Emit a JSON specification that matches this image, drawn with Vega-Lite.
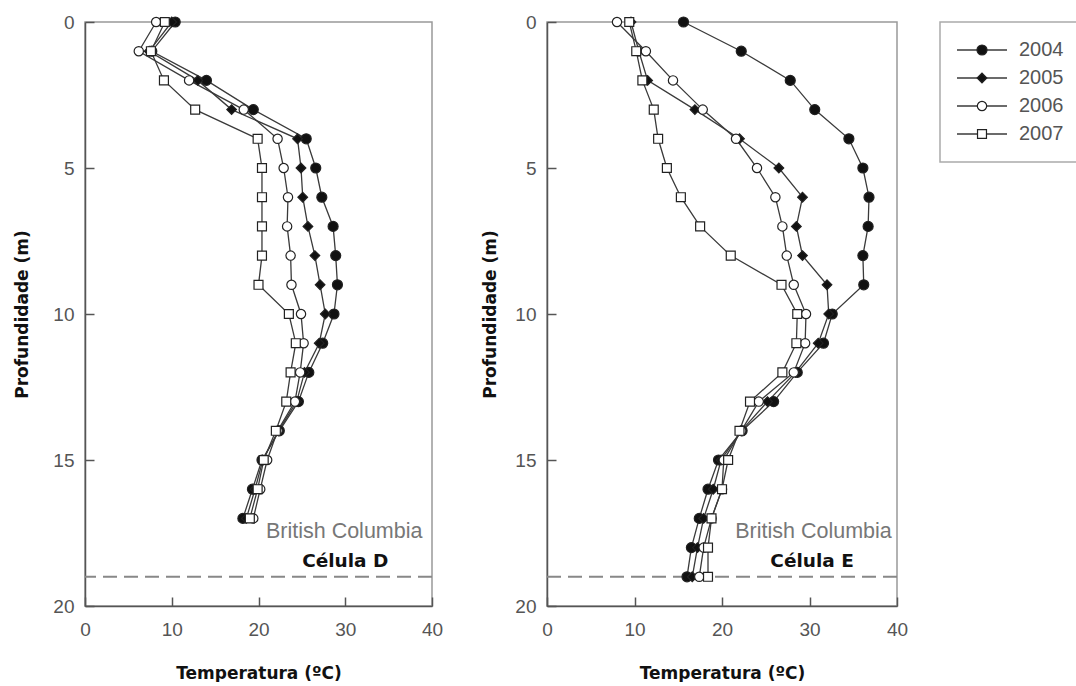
{
  "$schema": "https://vega.github.io/schema/vega-lite/v6.json",
  "padding": {"left": 13, "top": 12, "right": 0, "bottom": 0},
  "background": "white",
  "bounds": "flush",
  "spacing": 855,
  "config": {
    "view": {"stroke": "#999", "strokeWidth": 1.5},
    "axis": {
      "domainColor": "#555", "domainWidth": 1.5, "tickColor": "#555", "tickWidth": 1.5,
      "labelFont": "Liberation Sans", "labelFontSize": 19, "labelColor": "#555",
      "labelFlush": false, "labelOverlap": false, "grid": false,
      "titleFont": "DejaVu Sans", "titleFontSize": 17, "titleFontWeight": "bold", "titleColor": "#111"
    }
  },
  "datasets": {
    "D": [
      {"year":"2004","depth":0,"temp":10.4},{"year":"2005","depth":0,"temp":10.0},{"year":"2006","depth":0,"temp":8.2},{"year":"2007","depth":0,"temp":9.2},
      {"year":"2004","depth":1,"temp":7.7},{"year":"2005","depth":1,"temp":7.4},{"year":"2006","depth":1,"temp":6.2},{"year":"2007","depth":1,"temp":7.6},
      {"year":"2004","depth":2,"temp":14.0},{"year":"2005","depth":2,"temp":13.0},{"year":"2006","depth":2,"temp":12.0},{"year":"2007","depth":2,"temp":9.1},
      {"year":"2004","depth":3,"temp":19.4},{"year":"2005","depth":3,"temp":16.9},{"year":"2006","depth":3,"temp":18.3},{"year":"2007","depth":3,"temp":12.7},
      {"year":"2004","depth":4,"temp":25.5},{"year":"2005","depth":4,"temp":24.5},{"year":"2006","depth":4,"temp":22.2},{"year":"2007","depth":4,"temp":19.9},
      {"year":"2004","depth":5,"temp":26.6},{"year":"2005","depth":5,"temp":24.9},{"year":"2006","depth":5,"temp":22.9},{"year":"2007","depth":5,"temp":20.4},
      {"year":"2004","depth":6,"temp":27.3},{"year":"2005","depth":6,"temp":25.1},{"year":"2006","depth":6,"temp":23.4},{"year":"2007","depth":6,"temp":20.4},
      {"year":"2004","depth":7,"temp":28.6},{"year":"2005","depth":7,"temp":25.7},{"year":"2006","depth":7,"temp":23.3},{"year":"2007","depth":7,"temp":20.4},
      {"year":"2004","depth":8,"temp":28.9},{"year":"2005","depth":8,"temp":26.5},{"year":"2006","depth":8,"temp":23.7},{"year":"2007","depth":8,"temp":20.4},
      {"year":"2004","depth":9,"temp":29.1},{"year":"2005","depth":9,"temp":27.1},{"year":"2006","depth":9,"temp":23.8},{"year":"2007","depth":9,"temp":20.0},
      {"year":"2004","depth":10,"temp":28.7},{"year":"2005","depth":10,"temp":27.7},{"year":"2006","depth":10,"temp":24.9},{"year":"2007","depth":10,"temp":23.5},
      {"year":"2004","depth":11,"temp":27.4},{"year":"2005","depth":11,"temp":27.0},{"year":"2006","depth":11,"temp":25.2},{"year":"2007","depth":11,"temp":24.3},
      {"year":"2004","depth":12,"temp":25.8},{"year":"2005","depth":12,"temp":25.3},{"year":"2006","depth":12,"temp":24.8},{"year":"2007","depth":12,"temp":23.7},
      {"year":"2004","depth":13,"temp":24.6},{"year":"2005","depth":13,"temp":24.4},{"year":"2006","depth":13,"temp":24.2},{"year":"2007","depth":13,"temp":23.2},
      {"year":"2004","depth":14,"temp":22.4},{"year":"2005","depth":14,"temp":22.3},{"year":"2006","depth":14,"temp":22.2},{"year":"2007","depth":14,"temp":22.0},
      {"year":"2004","depth":15,"temp":20.4},{"year":"2005","depth":15,"temp":20.5},{"year":"2006","depth":15,"temp":21.0},{"year":"2007","depth":15,"temp":20.6},
      {"year":"2004","depth":16,"temp":19.3},{"year":"2005","depth":16,"temp":19.6},{"year":"2006","depth":16,"temp":20.2},{"year":"2007","depth":16,"temp":19.9},
      {"year":"2004","depth":17,"temp":18.2},{"year":"2005","depth":17,"temp":18.6},{"year":"2006","depth":17,"temp":19.4},{"year":"2007","depth":17,"temp":19.0}
    ],
    "E": [
      {"year":"2004","depth":0,"temp":15.6},{"year":"2005","depth":0,"temp":9.6},{"year":"2006","depth":0,"temp":8.0},{"year":"2007","depth":0,"temp":9.4},
      {"year":"2004","depth":1,"temp":22.2},{"year":"2005","depth":1,"temp":10.5},{"year":"2006","depth":1,"temp":11.3},{"year":"2007","depth":1,"temp":10.2},
      {"year":"2004","depth":2,"temp":27.8},{"year":"2005","depth":2,"temp":11.5},{"year":"2006","depth":2,"temp":14.4},{"year":"2007","depth":2,"temp":10.9},
      {"year":"2004","depth":3,"temp":30.6},{"year":"2005","depth":3,"temp":16.9},{"year":"2006","depth":3,"temp":17.8},{"year":"2007","depth":3,"temp":12.2},
      {"year":"2004","depth":4,"temp":34.5},{"year":"2005","depth":4,"temp":22.0},{"year":"2006","depth":4,"temp":21.6},{"year":"2007","depth":4,"temp":12.7},
      {"year":"2004","depth":5,"temp":36.1},{"year":"2005","depth":5,"temp":26.5},{"year":"2006","depth":5,"temp":24.0},{"year":"2007","depth":5,"temp":13.7},
      {"year":"2004","depth":6,"temp":36.8},{"year":"2005","depth":6,"temp":29.2},{"year":"2006","depth":6,"temp":26.1},{"year":"2007","depth":6,"temp":15.3},
      {"year":"2004","depth":7,"temp":36.7},{"year":"2005","depth":7,"temp":28.5},{"year":"2006","depth":7,"temp":26.9},{"year":"2007","depth":7,"temp":17.5},
      {"year":"2004","depth":8,"temp":36.1},{"year":"2005","depth":8,"temp":29.2},{"year":"2006","depth":8,"temp":27.4},{"year":"2007","depth":8,"temp":21.0},
      {"year":"2004","depth":9,"temp":36.2},{"year":"2005","depth":9,"temp":32.0},{"year":"2006","depth":9,"temp":28.2},{"year":"2007","depth":9,"temp":26.8},
      {"year":"2004","depth":10,"temp":32.6},{"year":"2005","depth":10,"temp":32.2},{"year":"2006","depth":10,"temp":29.6},{"year":"2007","depth":10,"temp":28.6},
      {"year":"2004","depth":11,"temp":31.6},{"year":"2005","depth":11,"temp":31.0},{"year":"2006","depth":11,"temp":29.5},{"year":"2007","depth":11,"temp":28.5},
      {"year":"2004","depth":12,"temp":28.6},{"year":"2005","depth":12,"temp":28.4},{"year":"2006","depth":12,"temp":28.2},{"year":"2007","depth":12,"temp":26.9},
      {"year":"2004","depth":13,"temp":25.9},{"year":"2005","depth":13,"temp":25.2},{"year":"2006","depth":13,"temp":24.2},{"year":"2007","depth":13,"temp":23.2},
      {"year":"2004","depth":14,"temp":22.3},{"year":"2005","depth":14,"temp":22.2},{"year":"2006","depth":14,"temp":22.2},{"year":"2007","depth":14,"temp":22.0},
      {"year":"2004","depth":15,"temp":19.6},{"year":"2005","depth":15,"temp":19.9},{"year":"2006","depth":15,"temp":20.2},{"year":"2007","depth":15,"temp":20.7},
      {"year":"2004","depth":16,"temp":18.4},{"year":"2005","depth":16,"temp":19.0},{"year":"2006","depth":16,"temp":20.0},{"year":"2007","depth":16,"temp":20.0},
      {"year":"2004","depth":17,"temp":17.4},{"year":"2005","depth":17,"temp":17.9},{"year":"2006","depth":17,"temp":18.8},{"year":"2007","depth":17,"temp":18.8},
      {"year":"2004","depth":18,"temp":16.5},{"year":"2005","depth":18,"temp":17.2},{"year":"2006","depth":18,"temp":17.9},{"year":"2007","depth":18,"temp":18.4},
      {"year":"2004","depth":19,"temp":16.0},{"year":"2005","depth":19,"temp":16.6},{"year":"2006","depth":19,"temp":17.4},{"year":"2007","depth":19,"temp":18.4}
    ],
    "legend": [{"year":"2004"},{"year":"2005"},{"year":"2006"},{"year":"2007"}],
    "one": [{}],
    "labelsD": [{"place":"British Columbia","cell":"Célula D"}],
    "labelsE": [{"place":"British Columbia","cell":"Célula E"}]
  },
  "hconcat": [
    {
      "bounds": "flush",
      "spacing": 115,
      "hconcat": [
        {
          "width": 347, "height": 584,
          "layer": [
            {"data": {"name": "one"}, "mark": {"type": "rule", "stroke": "#888", "strokeWidth": 2, "strokeDash": [14, 7]}, "encoding": {"y": {"datum": 19, "type": "quantitative"}}},
            {"data": {"name": "D"}, "mark": {"type": "line", "stroke": "#3a3a3a", "strokeWidth": 1.3, "clip": false},
             "encoding": {
               "x": {"field": "temp", "type": "quantitative", "scale": {"domain": [0, 40], "nice": false}, "axis": {"values": [0, 10, 20, 30, 40], "title": "Temperatura (ºC)", "tickSize": -9, "labelPadding": 23, "titlePadding": 26}},
               "y": {"field": "depth", "type": "quantitative", "scale": {"domain": [0, 20], "nice": false, "reverse": true}, "axis": {"values": [0, 5, 10, 15, 20], "title": "Profundidade (m)", "tickSize": -9, "labelPadding": 20, "titlePadding": 21}},
               "detail": {"field": "year"}, "order": {"field": "depth"}}},
            {"data": {"name": "D"}, "mark": {"type": "point", "filled": true, "stroke": "#222", "strokeWidth": 1.2, "opacity": 1, "clip": false},
             "encoding": {
               "x": {"field": "temp", "type": "quantitative"},
               "y": {"field": "depth", "type": "quantitative"},
               "shape": {"field": "year", "type": "nominal", "scale": {"domain": ["2004","2005","2006","2007"], "range": ["circle","diamond","circle","square"]}, "legend": null},
               "fill": {"field": "year", "type": "nominal", "scale": {"domain": ["2004","2005","2006","2007"], "range": ["#111","#111","#fff","#fff"]}, "legend": null},
               "size": {"field": "year", "type": "nominal", "scale": {"domain": ["2004","2005","2006","2007"], "range": [100, 80, 80, 64]}, "legend": null}}},
            {"data": {"name": "labelsD"}, "mark": {"type": "text", "font": "Liberation Sans", "fontSize": 21.5, "color": "#777", "align": "right", "baseline": "middle"}, "encoding": {"text": {"field": "place"}, "x": {"datum": 38.9}, "y": {"datum": 17.45}}},
            {"data": {"name": "labelsD"}, "mark": {"type": "text", "font": "DejaVu Sans", "fontWeight": "bold", "fontSize": 18.5, "color": "#111", "align": "center", "baseline": "middle"}, "encoding": {"text": {"field": "cell"}, "x": {"datum": 30.0}, "y": {"datum": 18.45}}}
          ]
        },
        {
          "width": 350, "height": 584,
          "layer": [
            {"data": {"name": "one"}, "mark": {"type": "rule", "stroke": "#888", "strokeWidth": 2, "strokeDash": [14, 7]}, "encoding": {"y": {"datum": 19, "type": "quantitative"}}},
            {"data": {"name": "E"}, "mark": {"type": "line", "stroke": "#3a3a3a", "strokeWidth": 1.3, "clip": false},
             "encoding": {
               "x": {"field": "temp", "type": "quantitative", "scale": {"domain": [0, 40], "nice": false}, "axis": {"values": [0, 10, 20, 30, 40], "title": "Temperatura (ºC)", "tickSize": -9, "labelPadding": 23, "titlePadding": 26}},
               "y": {"field": "depth", "type": "quantitative", "scale": {"domain": [0, 20], "nice": false, "reverse": true}, "axis": {"values": [0, 5, 10, 15, 20], "title": "Profundidade (m)", "tickSize": -9, "labelPadding": 20, "titlePadding": 15}},
               "detail": {"field": "year"}, "order": {"field": "depth"}}},
            {"data": {"name": "E"}, "mark": {"type": "point", "filled": true, "stroke": "#222", "strokeWidth": 1.2, "opacity": 1, "clip": false},
             "encoding": {
               "x": {"field": "temp", "type": "quantitative"},
               "y": {"field": "depth", "type": "quantitative"},
               "shape": {"field": "year", "type": "nominal", "legend": null},
               "fill": {"field": "year", "type": "nominal", "legend": null},
               "size": {"field": "year", "type": "nominal", "legend": null}}},
            {"data": {"name": "labelsE"}, "mark": {"type": "text", "font": "Liberation Sans", "fontSize": 21.5, "color": "#777", "align": "right", "baseline": "middle"}, "encoding": {"text": {"field": "place"}, "x": {"datum": 39.4}, "y": {"datum": 17.45}}},
            {"data": {"name": "labelsE"}, "mark": {"type": "text", "font": "DejaVu Sans", "fontWeight": "bold", "fontSize": 18.5, "color": "#111", "align": "center", "baseline": "middle"}, "encoding": {"text": {"field": "cell"}, "x": {"datum": 30.3}, "y": {"datum": 18.45}}}
          ]
        }
      ]
    },
    {
      "width": 140, "height": 140,
      "view": {"stroke": "#aaa", "strokeWidth": 1.5},
      "data": {"name": "legend"},
      "layer": [
        {"mark": {"type": "rule", "stroke": "#3a3a3a", "strokeWidth": 1.5}, "encoding": {"x": {"datum": 17, "type": "quantitative", "scale": {"domain": [0, 140], "nice": false}, "axis": null}, "x2": {"datum": 67}, "y": {"field": "year", "type": "ordinal", "scale": {"type": "point", "padding": 1.1}, "axis": null}}},
        {"mark": {"type": "point", "filled": true, "stroke": "#222", "strokeWidth": 1.2, "opacity": 1},
         "encoding": {"x": {"datum": 42, "type": "quantitative"}, "y": {"field": "year", "type": "ordinal"},
           "shape": {"field": "year", "type": "nominal", "legend": null},
           "fill": {"field": "year", "type": "nominal", "legend": null},
           "size": {"field": "year", "type": "nominal", "legend": null}}},
        {"mark": {"type": "text", "font": "Liberation Sans", "fontSize": 20, "color": "#555", "align": "left", "baseline": "middle"},
         "encoding": {"x": {"datum": 79, "type": "quantitative"}, "y": {"field": "year", "type": "ordinal"}, "text": {"field": "year"}}}
      ]
    }
  ]
}
